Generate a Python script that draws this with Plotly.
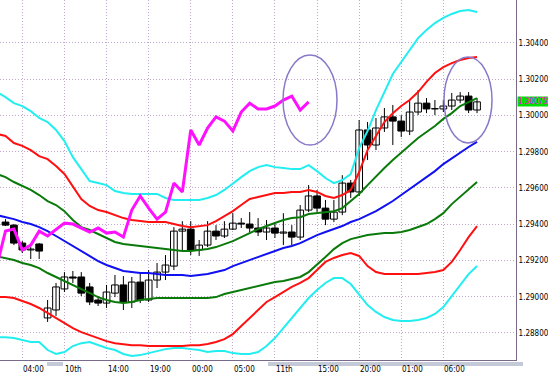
import plotly.graph_objects as go

# ---- data (hourly bars, index 0..56) ----
bars = list(range(57))
band_bars = list(range(-1, 57))   # bands start one bar earlier (partly visible at the left edge)

opens = [1.29412,1.29395,1.29296,1.29258,1.29291,1.28883,1.28927,1.29043,1.29109,1.29109,
         1.29054,1.28982,1.28965,1.29020,1.29065,1.28971,1.29081,1.28982,1.29092,1.29136,
         1.29169,1.29362,1.29373,1.29258,1.29285,1.29362,1.29335,1.29373,1.29406,1.29401,
         1.29379,1.29357,1.29379,1.29351,1.29357,1.29329,1.29478,1.29556,1.29489,1.29428,
         1.29467,1.29627,1.29578,1.29920,1.29837,1.29931,1.29992,1.29969,1.29914,1.30019,
         1.30068,1.30036,1.30036,1.30052,1.30085,1.30107,1.30030]
highs = [1.29428,1.29401,1.29307,1.29274,1.29296,1.28982,1.29076,1.29136,1.29142,1.29136,
         1.29076,1.29004,1.29065,1.29120,1.29114,1.29109,1.29136,1.29147,1.29186,1.29230,
         1.29384,1.29417,1.29417,1.29313,1.29417,1.29395,1.29417,1.29461,1.29434,1.29467,
         1.29434,1.29423,1.29412,1.29461,1.29395,1.29506,1.29616,1.29589,1.29534,1.29534,
         1.29671,1.29644,1.29975,1.29964,1.29986,1.30041,1.30058,1.30002,1.30085,1.30140,
         1.30096,1.30085,1.30085,1.30124,1.30129,1.30129,1.30096]
lows = [1.29390,1.29285,1.29241,1.29208,1.29208,1.28861,1.28894,1.29026,1.29076,1.29004,
        1.28954,1.28949,1.28938,1.28998,1.28927,1.28938,1.28965,1.28971,1.29048,1.29092,
        1.29147,1.29258,1.29230,1.29225,1.29274,1.29313,1.29324,1.29368,1.29379,1.29357,
        1.29335,1.29313,1.29324,1.29285,1.29285,1.29313,1.29467,1.29467,1.29395,1.29412,
        1.29450,1.29545,1.29556,1.29754,1.29809,1.29909,1.29837,1.29881,1.29892,1.30002,
        1.30013,1.30002,1.30019,1.30030,1.30068,1.30013,1.30013]
closes = [1.29395,1.29296,1.29258,1.29263,1.29252,1.28938,1.29054,1.29109,1.29103,1.29020,
          1.28971,1.28965,1.29026,1.29065,1.28971,1.29081,1.28982,1.29092,1.29136,1.29175,
          1.29362,1.29373,1.29258,1.29285,1.29362,1.29335,1.29373,1.29406,1.29401,1.29379,
          1.29357,1.29379,1.29351,1.29357,1.29329,1.29478,1.29556,1.29489,1.29428,1.29467,
          1.29627,1.29578,1.29920,1.29837,1.29931,1.29992,1.29969,1.29914,1.30019,1.30068,
          1.30036,1.30036,1.30052,1.30085,1.30107,1.30030,1.30075]

bb_up3 = [1.30129,
          1.30101,1.30068,1.30052,1.30024,1.29986,1.29964,1.29920,1.29859,1.29770,1.29704,
          1.29638,1.29627,1.29616,1.29583,1.29572,1.29567,1.29567,1.29567,1.29567,1.29545,
          1.29534,1.29534,1.29534,1.29534,1.29545,1.29561,1.29589,1.29627,1.29660,1.29693,
          1.29715,1.29726,1.29715,1.29710,1.29704,1.29704,1.29726,1.29693,1.29655,1.29627,
          1.29644,1.29677,1.29820,1.29914,1.30030,1.30129,1.30229,1.30295,1.30361,1.30427,
          1.30471,1.30510,1.30538,1.30560,1.30576,1.30582,1.30571]
bb_up2 = [1.29898,
          1.29887,1.29848,1.29832,1.29809,1.29776,1.29759,1.29721,1.29677,1.29605,1.29539,
          1.29501,1.29478,1.29467,1.29450,1.29434,1.29423,1.29417,1.29412,1.29412,1.29412,
          1.29401,1.29390,1.29384,1.29390,1.29395,1.29417,1.29445,1.29472,1.29506,1.29539,
          1.29550,1.29561,1.29572,1.29572,1.29578,1.29578,1.29589,1.29578,1.29556,1.29545,
          1.29561,1.29589,1.29688,1.29809,1.29887,1.29964,1.30013,1.30052,1.30085,1.30129,
          1.30185,1.30234,1.30267,1.30289,1.30306,1.30317,1.30322]
bb_up1 = [1.29677,
          1.29660,1.29633,1.29611,1.29589,1.29561,1.29528,1.29506,1.29472,1.29423,1.29384,
          1.29368,1.29346,1.29324,1.29302,1.29291,1.29285,1.29280,1.29274,1.29269,1.29263,
          1.29258,1.29252,1.29252,1.29258,1.29263,1.29274,1.29291,1.29307,1.29329,1.29351,
          1.29373,1.29390,1.29406,1.29423,1.29434,1.29439,1.29456,1.29461,1.29467,1.29472,
          1.29489,1.29528,1.29567,1.29616,1.29666,1.29710,1.29754,1.29793,1.29837,1.29876,
          1.29909,1.29942,1.29981,1.30013,1.30052,1.30074,1.30096]
bb_mid = [1.29450,
          1.29439,1.29428,1.29412,1.29401,1.29384,1.29362,1.29335,1.29307,1.29280,1.29252,
          1.29225,1.29197,1.29175,1.29158,1.29142,1.29136,1.29131,1.29131,1.29125,1.29120,
          1.29120,1.29120,1.29114,1.29120,1.29125,1.29136,1.29147,1.29169,1.29186,1.29203,
          1.29219,1.29236,1.29252,1.29269,1.29280,1.29296,1.29318,1.29340,1.29357,1.29373,
          1.29390,1.29412,1.29428,1.29450,1.29472,1.29500,1.29528,1.29561,1.29594,1.29627,
          1.29660,1.29693,1.29732,1.29765,1.29798,1.29826,1.29854]
bb_dn1 = [1.29222,
          1.29214,1.29203,1.29186,1.29175,1.29158,1.29131,1.29109,1.29087,1.29065,1.29043,
          1.29020,1.28998,1.28982,1.28971,1.28965,1.28971,1.28982,1.28987,1.28993,1.28993,
          1.28993,1.28993,1.28993,1.28993,1.28993,1.28998,1.29015,1.29026,1.29037,1.29048,
          1.29059,1.29070,1.29081,1.29087,1.29098,1.29109,1.29136,1.29175,1.29219,1.29263,
          1.29296,1.29318,1.29329,1.29340,1.29346,1.29351,1.29351,1.29357,1.29368,1.29384,
          1.29401,1.29428,1.29461,1.29511,1.29550,1.29594,1.29633]
bb_dn2 = [1.28998,
          1.28998,1.28993,1.28976,1.28960,1.28938,1.28910,1.28883,1.28855,1.28827,1.28805,
          1.28788,1.28772,1.28755,1.28744,1.28739,1.28733,1.28733,1.28728,1.28728,1.28728,
          1.28728,1.28728,1.28733,1.28733,1.28739,1.28750,1.28766,1.28794,1.28838,1.28883,
          1.28927,1.28971,1.28998,1.29026,1.29054,1.29076,1.29103,1.29147,1.29192,1.29214,
          1.29230,1.29241,1.29225,1.29169,1.29136,1.29125,1.29125,1.29125,1.29125,1.29125,
          1.29131,1.29136,1.29147,1.29192,1.29258,1.29329,1.29390]
bb_dn3 = [1.28777,
          1.28777,1.28772,1.28761,1.28750,1.28750,1.28706,1.28684,1.28695,1.28728,1.28744,
          1.28750,1.28733,1.28717,1.28706,1.28684,1.28673,1.28678,1.28689,1.28700,1.28711,
          1.28717,1.28717,1.28711,1.28706,1.28695,1.28700,1.28700,1.28689,1.28684,1.28684,
          1.28695,1.28728,1.28772,1.28827,1.28883,1.28943,1.28993,1.29037,1.29076,1.29103,
          1.29103,1.29070,1.29009,1.28954,1.28916,1.28888,1.28872,1.28866,1.28866,1.28872,
          1.28883,1.28905,1.28943,1.29004,1.29070,1.29125,1.29169]

lag_shift = 20          # lagging span (close shifted back)
lag_start = 19

x_tick_bars = [2, 7, 12, 17, 22, 27, 32, 37, 42, 47, 52]
x_tick_text = ["04:00", "10th", "14:00", "19:00", "00:00", "05:00", "11th", "15:00", "20:00", "01:00", "06:00"]
y_ticks = [1.288, 1.290, 1.292, 1.294, 1.296, 1.298, 1.300, 1.302, 1.304]

# ---- figure ----
W, H = 548, 377
ML, MR, MT, MB = 0, 32, 0, 17
FONT = "Liberation Sans Narrow, DejaVu Sans Condensed, Arial Narrow, sans-serif"

fig = go.Figure()

# candle wicks
wx, wy = [], []
for b, hi, lo in zip(bars, highs, lows):
    wx += [b, b, None]
    wy += [lo, hi, None]
fig.add_trace(go.Scatter(x=wx, y=wy, mode="lines", line=dict(color="#000000", width=1),
                         showlegend=False, hoverinfo="skip"))

# candle bodies (a hairline minimum height so doji show as a dash)
min_h = 0.00002
base = [min(o, c) for o, c in zip(opens, closes)]
height = [max(abs(c - o), min_h) for o, c in zip(opens, closes)]
colors = ["#ffffff" if c >= o else "#000000" for o, c in zip(opens, closes)]
fig.add_trace(go.Bar(x=bars, y=height, base=base, width=0.8,
                     marker=dict(color=colors, line=dict(color="#000000", width=1)),
                     showlegend=False, hoverinfo="skip"))

bands = [(bb_up3, "#22eef0"), (bb_dn3, "#22eef0"),
         (bb_up2, "#ff1010"), (bb_dn2, "#ff1010"),
         (bb_up1, "#0a7a0a"), (bb_dn1, "#0a7a0a"),
         (bb_mid, "#1010f0")]
for vals, col in bands:
    fig.add_trace(go.Scatter(x=band_bars, y=vals, mode="lines",
                             line=dict(color=col, width=2), showlegend=False, hoverinfo="skip"))

lag_x = [b - lag_shift for b in bars[lag_start:]]
lag_y = closes[lag_start:]
fig.add_trace(go.Scatter(x=lag_x, y=lag_y, mode="lines",
                         line=dict(color="#ff10ff", width=3), showlegend=False, hoverinfo="skip"))

# x range so that bars sit at the same pixel pitch as the reference
px_per_bar = 8.42
first_px = 5.5
plot_w = W - ML - MR
x0 = -first_px / px_per_bar
x1 = x0 + plot_w / px_per_bar

ymin, ymax = 1.28651, 1.30637

grid = dict(showgrid=True, gridcolor="#bfa8cc", griddash="1px,2px", gridwidth=1)
fig.update_layout(
    width=W, height=H, margin=dict(l=ML, r=MR, t=MT, b=MB, autoexpand=False),
    paper_bgcolor="#ffffff", plot_bgcolor="#ffffff",
    barmode="overlay",
    xaxis=dict(range=[x0, x1], tickvals=x_tick_bars, showticklabels=False, ticks="",
               zeroline=False, showline=True, linecolor="#7a6a8a", linewidth=1, mirror=True, **grid),
    yaxis=dict(range=[ymin, ymax], side="right", tickvals=y_ticks,
               ticktext=[f"{v:.5f}" for v in y_ticks], ticks="",
               tickfont=dict(family=FONT, size=8, color="#000000"), zeroline=False,
               showline=True, linecolor="#7a6a8a", linewidth=1, mirror=True, **grid),
    font=dict(family=FONT, size=8, color="#000000"),
)

# x labels, left-aligned at their grid lines
for b, t in zip(x_tick_bars, x_tick_text):
    fig.add_annotation(x=b, y=0, xref="x", yref="paper", yanchor="top", xanchor="left",
                       yshift=-3, xshift=-1, text=t, showarrow=False,
                       font=dict(family=FONT, size=8, color="#000000"))

# current price tag
fig.add_annotation(x=1, xref="paper", y=closes[-1], yref="y", xanchor="left", xshift=1,
                   text=f"{closes[-1]:.5f}", showarrow=False, bgcolor="#00e000",
                   borderpad=0, font=dict(family=FONT, size=8, color="#ff00ff"))

# highlight ellipses
for xa, xb, ya, yb in [(32.96, 39.37, 1.29837, 1.30334), (52.08, 57.78, 1.29848, 1.30322)]:
    fig.add_shape(type="circle", xref="x", yref="y", x0=xa, x1=xb, y0=ya, y1=yb,
                  line=dict(color="#8a78c8", width=1.5))

# double separator lines under the plot
for y in (-3.0 / 360, -5.0 / 360):
    for xa, xb in [(268 / plot_w, 523 / plot_w), (47 / plot_w, 63 / plot_w)]:
        fig.add_shape(type="line", xref="paper", yref="paper", x0=xa, x1=xb, y0=y, y1=y,
                      line=dict(color="#8a94b0", width=1))

fig.write_html("out.html", config={"displayModeBar": False},
               post_script="document.body.style.margin='0';document.body.style.overflow='hidden';")
